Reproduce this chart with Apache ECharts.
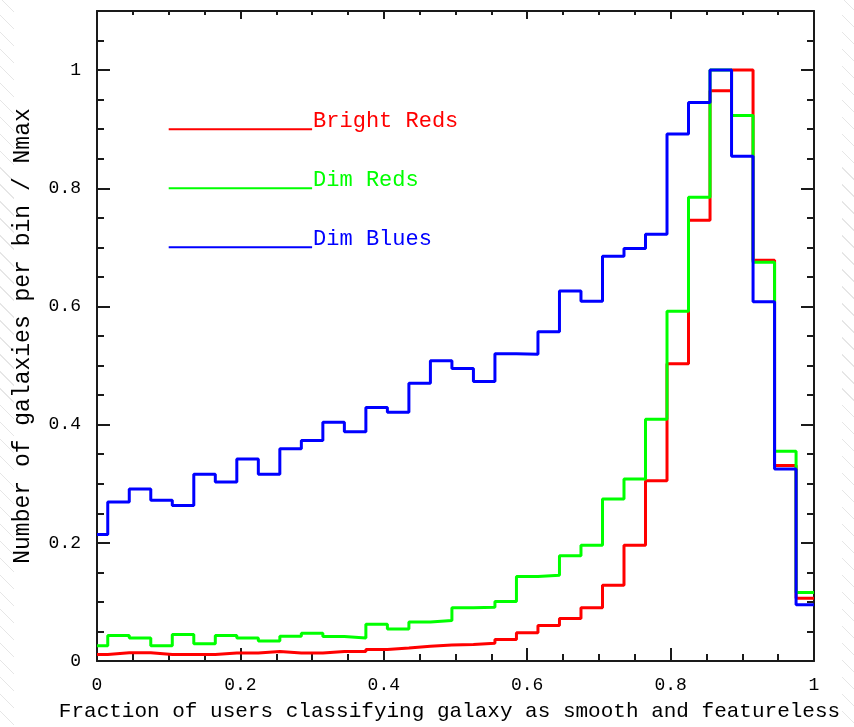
<!DOCTYPE html>
<html>
<head>
<meta charset="utf-8">
<script src="https://cdn.jsdelivr.net/npm/echarts@6/dist/echarts.min.js"></script>
<style>
  html, body { margin: 0; padding: 0; background: #fff; }
  #wrap { position: relative; width: 854px; height: 727px; }
  .edge { position: absolute; top: 0; height: 727px;
          background: repeating-linear-gradient(45deg, transparent 0 11px, #e6e6e6 11px 12px); }
  #edgeL { left: 0; width: 14px; }
  #edgeR { left: 842px; width: 12px; }
  #chart { position: absolute; left: 0; top: 0; width: 854px; height: 727px; }
</style>
</head>
<body>
<div id="wrap">
  <div class="edge" id="edgeL"></div>
  <div class="edge" id="edgeR"></div>
  <div id="chart"></div>
</div>
<script>
// Histogram bins: centres every 0.03 from 0 to 0.99
const binWidth = 0.03;
const binCenters = Array.from({ length: 34 }, (_, i) => +(i * binWidth).toFixed(2));

// Number of galaxies per bin, normalised to the fullest bin
const brightReds = [0.011, 0.014, 0.014, 0.011, 0.011, 0.011, 0.0135, 0.0135, 0.016, 0.0135,
                    0.0135, 0.016, 0.016, 0.0196, 0.022, 0.025, 0.027, 0.028, 0.030, 0.0365,
                    0.048, 0.060, 0.072, 0.090, 0.128, 0.196, 0.305, 0.503, 0.746, 0.965,
                    1.000, 0.678, 0.331, 0.106];
const dimReds    = [0.026, 0.043, 0.039, 0.026, 0.045, 0.029, 0.043, 0.039, 0.034, 0.042,
                    0.047, 0.0415, 0.039, 0.062, 0.054, 0.066, 0.0685, 0.090, 0.091, 0.1005,
                    0.143, 0.145, 0.178, 0.196, 0.274, 0.308, 0.409, 0.592, 0.785, 1.000,
                    0.923, 0.675, 0.355, 0.116];
const dimBlues   = [0.214, 0.269, 0.291, 0.272, 0.263, 0.316, 0.303, 0.342, 0.316, 0.359,
                    0.373, 0.404, 0.388, 0.429, 0.421, 0.470, 0.508, 0.495, 0.473, 0.520,
                    0.519, 0.557, 0.626, 0.609, 0.685, 0.698, 0.722, 0.892, 0.945, 1.000,
                    0.854, 0.608, 0.325, 0.095];

const seriesNames  = ['Bright Reds', 'Dim Reds', 'Dim Blues'];
const seriesColors = ['#ff0000', '#00ff00', '#0000ff'];
const seriesValues = [brightReds, dimReds, dimBlues];

// Key placement inside the plot (data units)
const keyX = [0.1, 0.3];
const keyY = [0.9, 0.8, 0.7];

const FONT = 'Liberation Mono';
const INK = '#1a1a1a';

// Turn bin values into step vertices: left edge of every bin, plus the last right edge
function stepPoints(values) {
  const pts = values.map((v, i) => [Math.max(0, binCenters[i] - binWidth / 2), v]);
  const last = values.length - 1;
  pts.push([Math.min(1, binCenters[last] + binWidth / 2), values[last]]);
  return pts;
}

const histSeries = seriesValues.map((vals, i) => ({
  type: 'line',
  name: seriesNames[i],
  data: stepPoints(vals),
  step: 'end',
  symbol: 'none',
  lineStyle: { color: seriesColors[i], width: 3 },
  z: 3 + i
}));

const keySeries = seriesNames.map((name, i) => ({
  type: 'line',
  name: name + ' key',
  data: [[keyX[0], keyY[i]], [keyX[1], keyY[i]]],
  symbol: 'none',
  lineStyle: { color: seriesColors[i], width: 2 },
  endLabel: {
    show: true,
    formatter: name,
    color: seriesColors[i],
    fontFamily: FONT,
    fontSize: 22,
    distance: 1,
    offset: [0, -8]
  },
  z: 2
}));

const tickLine = { color: INK, width: 2 };
const axisLineStyle = { show: true, onZero: false, lineStyle: { color: INK, width: 2 } };

function xAxisDef(pos, showLabels) {
  return {
    type: 'value', position: pos, min: 0, max: 1, interval: 0.2,
    axisLine: axisLineStyle,
    axisTick: { show: true, inside: true, length: showLabels ? 13 : 8, lineStyle: tickLine },
    minorTick: { show: true, splitNumber: 4, length: showLabels ? 7 : 4, lineStyle: tickLine },
    splitLine: { show: false },
    minorSplitLine: { show: false },
    axisLabel: {
      show: showLabels, margin: 15, color: '#000', fontFamily: FONT, fontSize: 18,
      formatter: v => String(+v.toFixed(2))
    },
    name: showLabels ? 'Fraction of users classifying galaxy as smooth and featureless' : '',
    nameLocation: 'middle',
    nameGap: 40,
    nameTextStyle: { color: '#000', fontFamily: FONT, fontSize: 21, padding: [0, 12, 0, 0] }
  };
}

function yAxisDef(pos, interval, tickLen, showLine, showLabels) {
  return {
    type: 'value', position: pos, min: 0, max: 1.1, interval: interval,
    axisLine: showLine ? axisLineStyle : { show: false, onZero: false },
    axisTick: { show: true, inside: true, length: tickLen, lineStyle: tickLine },
    splitLine: { show: false },
    axisLabel: {
      show: showLabels, margin: 16, color: '#000', fontFamily: FONT, fontSize: 18,
      formatter: v => (v > 1.0001 ? '' : String(+v.toFixed(2)))
    },
    name: showLabels ? 'Number of galaxies per bin / Nmax' : '',
    nameLocation: 'middle',
    nameGap: 63,
    nameTextStyle: { color: '#000', fontFamily: FONT, fontSize: 23 }
  };
}

const chart = echarts.init(document.getElementById('chart'), null, { renderer: 'canvas' });
chart.setOption({
  animation: false,
  backgroundColor: 'transparent',
  grid: { left: 97, right: 40, top: 11, bottom: 63, containLabel: false },
  xAxis: [xAxisDef('bottom', true), xAxisDef('top', false)],
  yAxis: [
    yAxisDef('left', 0.2, 13, true, true),
    yAxisDef('left', 0.05, 7, false, false),
    yAxisDef('right', 0.2, 13, true, false),
    yAxisDef('right', 0.05, 7, false, false)
  ],
  series: histSeries.concat(keySeries)
});
</script>
</body>
</html>
